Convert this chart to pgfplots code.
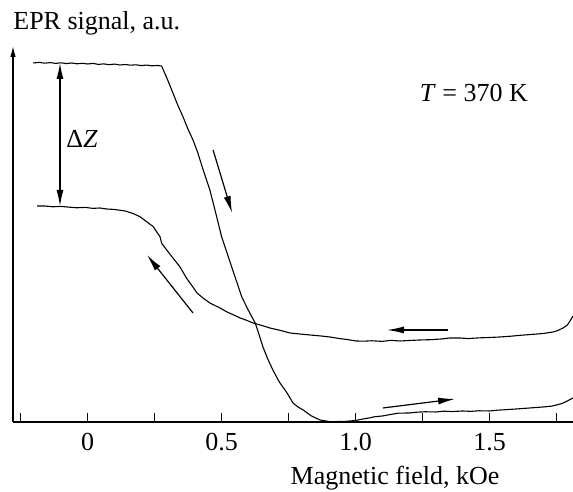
\documentclass[border=0pt]{standalone}
\usepackage{fontspec}
\setmainfont{Liberation Serif}
\usepackage{pgfplots}
\pgfplotsset{compat=1.18}
\usetikzlibrary{arrows.meta}
\begin{document}
\begin{tikzpicture}[font=\fontsize{13}{15.6}\selectfont]
\begin{axis}[
  x=134pt, y=0.5pt,
  xmin=-0.2787, xmax=1.811, ymin=0, ymax=376,
  axis lines=left,
  x axis line style={-},
  y axis line style={-{Latex[length=5.5pt,width=2.8pt]}},
  axis line style={line width=0.7pt},
  xtick={0,0.5,1.0,1.5},
  xticklabels={0,0.5,1.0,1.5},
  minor xtick={-0.25,0.25,0.75,1.25,1.75},
  ytick=\empty,
  tick align=inside,
  major tick length=4.5pt, minor tick length=4.5pt,
  every tick/.style={black,line width=0.6pt},
  /pgf/number format/assume math mode=true,
  xticklabel style={inner sep=0pt, yshift=-5.3pt},
  clip=false,
]
% increasing-field sweep (upper start)
\addplot[black, line width=0.55pt] coordinates {
(-0.204,359) (-0.18,359.6) (-0.16,358.8) (-0.14,359.4) (-0.12,358.6) (-0.10,359.2)
(-0.08,358.4) (-0.06,359.0) (-0.04,358.2) (-0.02,358.7) (0.00,358.0) (0.02,358.6)
(0.04,357.6) (0.06,358.1) (0.08,357.3) (0.10,357.9) (0.12,357.0) (0.14,357.5)
(0.16,356.8) (0.18,357.2) (0.20,356.4) (0.22,356.9) (0.24,356.2) (0.26,356.5) (0.276,356)
(0.30,341) (0.318,329) (0.336,317) (0.356,305) (0.374,293) (0.393,282) (0.41,270)
(0.431,252) (0.456,232) (0.475,212) (0.500,185) (0.525,165) (0.550,145)
(0.575,125) (0.599,112) (0.625,99) (0.64,87)
(0.654,75) (0.672,63) (0.691,52) (0.715,40) (0.744,29) (0.766,19) (0.785,15)
(0.804,12) (0.835,6) (0.867,2) (0.904,0.3) (0.93,0.4) (0.96,0.6) (0.98,1.0)
(1.0,1.5) (1.02,2.6) (1.05,4) (1.07,5.2) (1.1,6) (1.13,7.5) (1.16,8.8) (1.2,9)
(1.23,9.8) (1.26,10.2) (1.3,10) (1.33,10.8) (1.36,10.4) (1.4,11) (1.43,10.6)
(1.46,11.2) (1.5,11) (1.53,11.8) (1.56,12.3) (1.6,13) (1.63,13.6) (1.66,14.2)
(1.7,15) (1.73,15.8) (1.75,17) (1.77,18.5) (1.79,21) (1.811,24)
};
% decreasing-field sweep (lower start)
\addplot[black, line width=0.55pt] coordinates {
(1.811,106) (1.80,101) (1.79,97) (1.774,94) (1.755,91.5) (1.737,90) (1.70,88.5)
(1.66,87.6) (1.62,86.8) (1.58,85.8) (1.539,85) (1.50,84.5) (1.46,84.1) (1.42,83.4)
(1.39,84) (1.352,84) (1.32,83) (1.28,82.3) (1.24,82) (1.20,81.5) (1.166,81)
(1.13,81.6) (1.10,80.6) (1.06,81.2) (1.03,80.8) (1.001,81) (0.97,82.4) (0.94,83.4)
(0.904,85) (0.87,86) (0.830,87) (0.79,88) (0.755,89) (0.72,91.5) (0.680,94)
(0.65,96.5) (0.617,99) (0.59,102) (0.569,104) (0.545,107) (0.520,110) (0.49,114.5)
(0.456,119) (0.43,124) (0.408,129) (0.39,136) (0.369,143.7) (0.344,155.3) (0.319,163.7)
(0.295,172) (0.276,178.7) (0.270,185.3) (0.257,190.3) (0.245,195.3) (0.220,200.3)
(0.195,205.3) (0.169,208.5) (0.14,211) (0.10,212.5) (0.07,213) (0.046,214) (0.02,213.6)
(-0.01,214.6) (-0.04,214.2) (-0.077,215) (-0.10,215.6) (-0.13,215.2) (-0.16,216) (-0.189,216)
};
% annotations
\draw[line width=0.6pt, {Latex[length=8pt,width=3.5pt]}-{Latex[length=8pt,width=3.5pt]}]
  (axis cs:-0.1034,359) -- (axis cs:-0.1034,216);
\node at (axis cs:-0.021,283) {\textup{Δ}\textit{Z}};
\draw[line width=0.6pt, -{Latex[length=8.5pt,width=3.5pt]}] (axis cs:0.468,272) -- (axis cs:0.539,209);
\draw[line width=0.6pt, -{Latex[length=8.5pt,width=3.5pt]}] (axis cs:0.393,109) -- (axis cs:0.2213,167);
\draw[line width=0.6pt, -{Latex[length=8.5pt,width=3.5pt]}] (axis cs:1.345,92) -- (axis cs:1.117,92);
\draw[line width=0.6pt, -{Latex[length=8.5pt,width=3.5pt]}] (axis cs:1.102,14) -- (axis cs:1.371,23);
\node at (axis cs:1.441,329) {\textit{T} = 370 K};
\node[anchor=west, inner sep=0pt] at (axis cs:-0.2787,399) {EPR signal, a.u.};
\node at (axis cs:1.147,-56) {Magnetic field, kOe};
\coordinate (bbA) at (axis cs:-0.3272,-70);
\coordinate (bbB) at (axis cs:1.811,422);
\end{axis}
\pgfresetboundingbox
\path (bbA) rectangle (bbB);
\end{tikzpicture}
\end{document}
